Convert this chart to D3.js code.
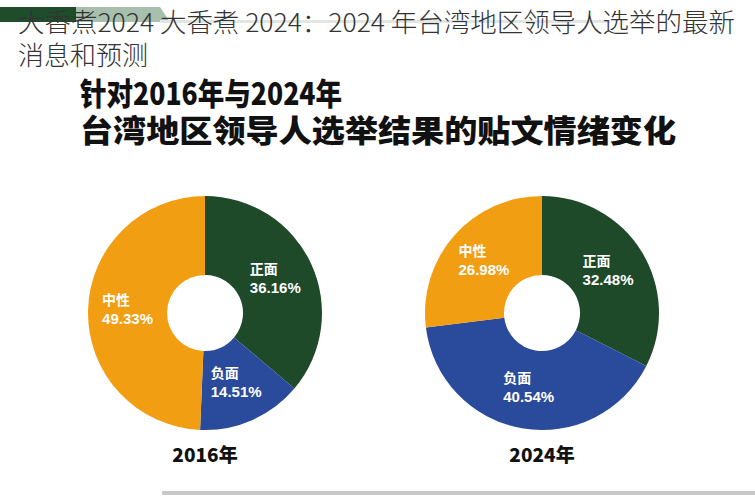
<!DOCTYPE html>
<html><head><meta charset="utf-8">
<script src="https://cdn.jsdelivr.net/npm/d3@7"></script>
<style>
html,body{margin:0;padding:0;background:#fff;}
svg{display:block;}
</style></head>
<body>
<svg id="chart" width="755" height="500"></svg>
<script>
// ---- data ----
const categories = ["正面", "负面", "中性"];
const years = ["2016年", "2024年"];
const values2016 = [36.16, 14.51, 49.33];
const values2024 = [32.48, 40.54, 26.98];
const overlayLines = ["大香煮2024 大香煮 2024：2024 年台湾地区领导人选举的最新", "消息和预测"];
const titleLines = ["针对2016年与2024年", "台湾地区领导人选举结果的贴文情绪变化"];

const colors = d3.scaleOrdinal().domain(categories).range(["#1e4a2a", "#2a4a9c", "#f29e12"]);

const svg = d3.select("#chart");

// top decorative band
svg.append("rect").attr("x", 0).attr("y", 7).attr("width", 76).attr("height", 15).attr("fill", "#1f4d2c");
svg.append("path").attr("d", "M76,7 L160,7 L170,22 L76,22 Z").attr("fill", "#a9bfad");
svg.append("rect").attr("x", 160).attr("y", 20).attr("width", 450).attr("height", 3).attr("fill", "#e2e6e3");

// main title (heavy), one wrapped text block
const tFont = "'Noto Sans CJK SC', sans-serif";
const title = svg.append("text").attr("font-family", tFont).attr("font-weight", 900)
  .attr("font-size", 31).attr("fill", "#111");
title.append("tspan").attr("x", 80).attr("y", 105).text(titleLines[0])
  .attr("textLength", 262).attr("lengthAdjust", "spacingAndGlyphs");
title.append("tspan").attr("x", 80).attr("y", 142).text(titleLines[1])
  .attr("textLength", 596).attr("lengthAdjust", "spacingAndGlyphs");

// donuts
const rOuter = 117, rInner = 38;
const pie = d3.pie().sort(null).value(d => d.v);
const arc = d3.arc().innerRadius(rInner).outerRadius(rOuter);
const labelArc = d3.arc().innerRadius(rInner).outerRadius(rOuter);

const xPos = d3.scalePoint().domain(years).range([205, 542]);
const datasets = [values2016, values2024];

years.forEach((yr, i) => {
  const g = svg.append("g").attr("transform", `translate(${xPos(yr)},313)`);
  const data = categories.map((c, j) => ({c, v: datasets[i][j]}));
  const arcs = pie(data);
  g.selectAll("path.slice").data(arcs).join("path").attr("class", "slice")
    .attr("d", arc).attr("fill", d => colors(d.data.c));
  arcs.forEach(a => {
    const [cx, cy] = labelArc.centroid(a);
    const lg = g.append("g");
    const t1 = lg.append("text").text(a.data.c)
      .attr("font-family", tFont).attr("font-weight", 700)
      .attr("font-size", 14).attr("fill", "#fff");
    const t2 = lg.append("text").text(a.data.v.toFixed(2) + "%")
      .attr("font-family", "'Liberation Sans', Arial, sans-serif").attr("font-weight", 700)
      .attr("font-size", 15).attr("fill", "#fff");
    const w = t2.node().getComputedTextLength();
    const x0 = cx - w / 2;
    t1.attr("x", x0).attr("y", cy - 6);
    t2.attr("x", x0).attr("y", cy + 13);
  });
  svg.append("text").attr("x", xPos(yr)).attr("y", 462).attr("text-anchor", "middle")
    .text(yr).attr("font-family", tFont).attr("font-weight", 900).attr("font-size", 19)
    .attr("fill", "#111");
});

// bottom line
svg.append("rect").attr("x", 162).attr("y", 491).attr("width", 600).attr("height", 4).attr("fill", "#c9c9c9");

// overlay caption text, one wrapped text block
const cap = svg.append("text").attr("font-family", tFont).attr("font-weight", 300)
  .attr("font-size", 26).attr("fill", "#333");
overlayLines.forEach((l, i) => {
  const t = cap.append("tspan").attr("x", 18).attr("y", 32 + i * 33).text(l);
  if (i === 0) t.attr("textLength", 717).attr("lengthAdjust", "spacingAndGlyphs");
});
</script>
</body></html>
